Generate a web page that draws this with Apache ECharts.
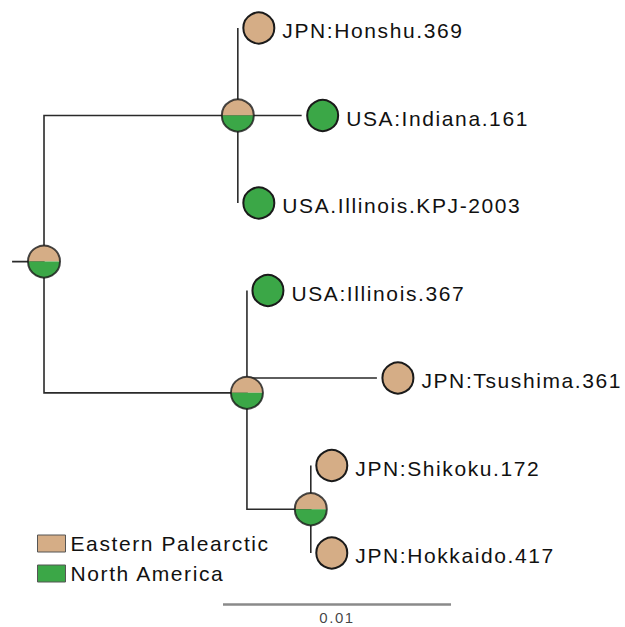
<!DOCTYPE html>
<html>
<head>
<meta charset="utf-8">
<script src="https://cdn.jsdelivr.net/npm/echarts@6/dist/echarts.min.js"></script>
<style>
    html, body { margin: 0; padding: 0; background: #fff; }
    #tree-chart { width: 625px; height: 627px; }
    #tree-chart text { letter-spacing: 1.6px; }
</style>
</head>
<body>
<div id="tree-chart"></div>
<script>
// tips of the tree, top to bottom (row = leaf order)
const leafNames = ['JPN:Honshu.369', 'USA:Indiana.161', 'USA.Illinois.KPJ-2003', 'USA:Illinois.367',
    'JPN:Tsushima.361', 'JPN:Shikoku.172', 'JPN:Hokkaido.417'];
const leafRegion = ['Eastern Palearctic', 'North America', 'North America', 'North America',
    'Eastern Palearctic', 'Eastern Palearctic', 'Eastern Palearctic'];
const leafDepth = [0.0085, 0.0113, 0.0085, 0.0089, 0.0146, 0.0117, 0.0117];
const leafParent = [1, 1, 1, 2, 2, 3, 3];

// internal nodes: 0 = root
const nodeDepth = [0, 0.0085, 0.0089, 0.0117];
const nodeRow = [2.67, 1, 4.17, 5.5];
const nodeParent = [-1, 0, 0, 2];
const nodeEP = [50, 50, 50, 50];   // ancestral state probability, Eastern Palearctic
const nodeNA = [50, 50, 50, 50];   // North America

const regions = ['Eastern Palearctic', 'North America'];
const regionColors = ['#D5AD86', '#3BA747'];
const scaleLength = 0.01;

let myChart = echarts.init(document.getElementById('tree-chart'), null, {renderer: 'svg'});

const fontFamily = '"Liberation Sans", Arial, Helvetica, sans-serif';
const grid = {left: 0, right: 0, top: 0, bottom: 0};
const xAxis = {type: 'value', min: -0.00193, max: 0.02548, show: false};
const yAxis = {type: 'value', inverse: true, min: -0.32, max: 6.846, show: false};

myChart.setOption({animation: false, grid: grid, xAxis: xAxis, yAxis: yAxis});

function colorOf(region) {
    return regionColors[regions.indexOf(region)];
}

// branches drawn as elbows: parent -> down/up to child row -> across to child depth
let branches = [];
branches.push({coords: [[-0.0014, nodeRow[0]], [nodeDepth[0], nodeRow[0]]]});
nodeParent.forEach(function (p, i) {
    if (p < 0) return;
    branches.push({coords: [[nodeDepth[p], nodeRow[p]], [nodeDepth[p], nodeRow[i]], [nodeDepth[i], nodeRow[i]]]});
});
leafParent.forEach(function (p, i) {
    branches.push({coords: [[nodeDepth[p], nodeRow[p]], [nodeDepth[p], i], [leafDepth[i], i]]});
});

let series = [
    {
        type: 'lines',
        coordinateSystem: 'cartesian2d',
        polyline: true,
        silent: true,
        z: 1,
        lineStyle: {color: '#2a2a2a', width: 1.6, opacity: 1},
        data: branches
    },
    {
        // scale bar
        type: 'lines',
        coordinateSystem: 'cartesian2d',
        silent: true,
        z: 1,
        lineStyle: {color: '#8a8a8a', width: 2.5, opacity: 1},
        data: [{coords: [[0.00785, 6.583], [0.00785 + scaleLength, 6.583]]}]
    },
    {
        type: 'scatter',
        silent: true,
        symbol: 'circle',
        symbolSize: 1,
        itemStyle: {color: 'rgba(0,0,0,0)'},
        data: [[0.00785 + scaleLength / 2, 6.583]],
        label: {
            show: true,
            position: 'bottom',
            distance: 6,
            formatter: String(scaleLength),
            fontSize: 15,
            fontFamily: fontFamily,
            color: '#111'
        }
    },
    {
        type: 'scatter',
        silent: true,
        z: 3,
        symbol: 'circle',
        symbolSize: 31,
        symbolOffset: [21, 0],
        itemStyle: {borderColor: '#1a1a1a', borderWidth: 2, opacity: 1},
        label: {
            show: true,
            position: 'right',
            distance: 7,
            offset: [0, 3],
            fontSize: 21,
            fontFamily: fontFamily,
            color: '#111',
            formatter: function (p) { return leafNames[p.dataIndex]; }
        },
        data: leafDepth.map(function (d, i) {
            return {value: [d, i], itemStyle: {color: colorOf(leafRegion[i])}};
        })
    },
    {
        // outlines round the ancestral state pies
        type: 'scatter',
        silent: true,
        z: 4,
        symbol: 'circle',
        symbolSize: 32,
        itemStyle: {color: 'rgba(0,0,0,0)', borderColor: '#1a1a1a', borderWidth: 2},
        data: nodeDepth.map(function (d, i) { return [d, nodeRow[i]]; })
    }
];

nodeDepth.forEach(function (d, i) {
    let center = myChart.convertToPixel({gridIndex: 0}, [d, nodeRow[i]]);
    series.push({
        type: 'pie',
        silent: true,
        z: 3,
        radius: 16,
        center: center,
        startAngle: 180,
        label: {show: false},
        labelLine: {show: false},
        data: [
            {value: nodeEP[i], name: regions[0], itemStyle: {color: regionColors[0]}},
            {value: nodeNA[i], name: regions[1], itemStyle: {color: regionColors[1]}}
        ]
    });
});

option = {
    animation: false,
    color: regionColors,
    grid: grid,
    xAxis: xAxis,
    yAxis: yAxis,
    legend: {
        data: regions,
        orient: 'vertical',
        left: 37,
        top: 533,
        padding: 0,
        itemWidth: 28,
        itemHeight: 17,
        itemGap: 9,
        icon: 'rect',
        selectedMode: false,
        itemStyle: {borderColor: '#555', borderWidth: 1},
        textStyle: {fontSize: 21, fontFamily: fontFamily, color: '#111'}
    },
    series: series
};
myChart.setOption(option);
</script>
</body>
</html>
